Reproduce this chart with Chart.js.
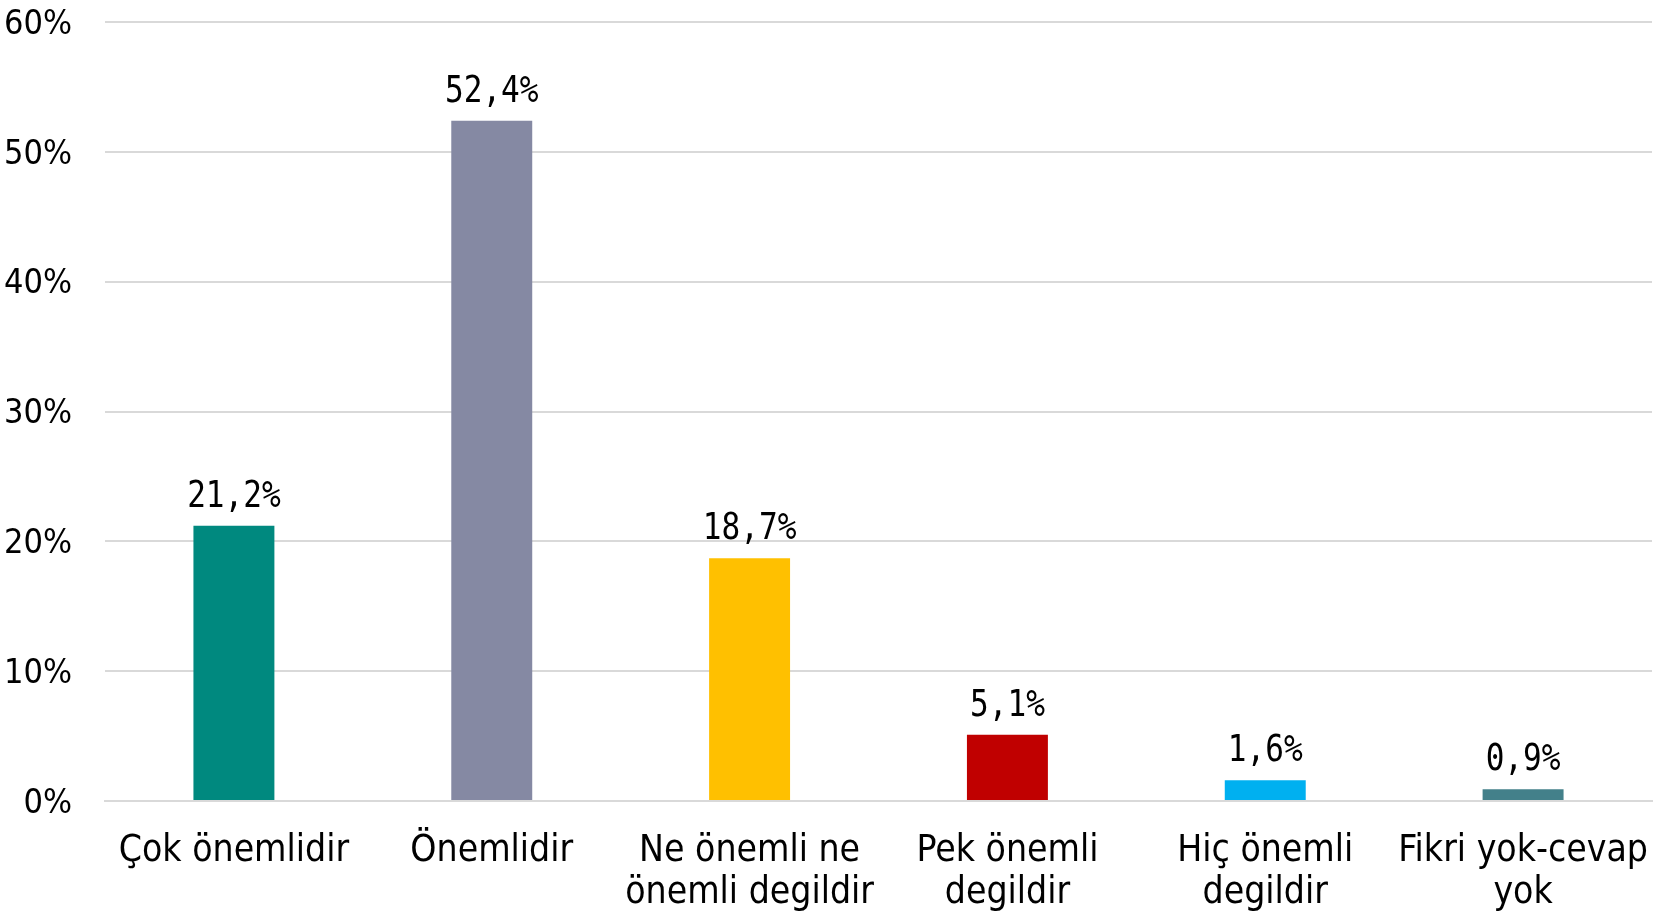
<!DOCTYPE html>
<html><head><meta charset="utf-8">
<script src="https://cdn.jsdelivr.net/npm/chart.js@4"></script>
<style>html,body{margin:0;padding:0;background:#fff;overflow:hidden}#wrap{width:1663px;height:911px}</style>
</head><body><div id="wrap"><canvas id="c"></canvas></div>
<script>
const categories = [["Çok önemlidir"], ["Önemlidir"], ["Ne önemli ne", "önemli degildir"], ["Pek önemli", "degildir"], ["Hiç önemli", "degildir"], ["Fikri yok-cevap", "yok"]];
const values = [21.2, 52.4, 18.7, 5.1, 1.6, 0.9];
const valueLabels = ["21,2%", "52,4%", "18,7%", "5,1%", "1,6%", "0,9%"];
const barColors = ["#00897F", "#8589A3", "#FFC000", "#C00000", "#00B0F0", "#43808A"];
const tickValues = [0, 10, 20, 30, 40, 50, 60];

const FONT = "'DejaVu Sans Condensed', 'DejaVu Sans', sans-serif";

const labelPlugin = {
  id: 'valLabels',
  afterDatasetsDraw(chart) {
    const ctx = chart.ctx;
    const meta = chart.getDatasetMeta(0);
    const sx = 0.84;
    ctx.save();
    ctx.fillStyle = '#000';
    ctx.font = "37px 'DejaVu Sans Mono', monospace";
    ctx.textAlign = 'center';
    ctx.textBaseline = 'alphabetic';
    meta.data.forEach((el, i) => {
      ctx.save();
      ctx.translate(el.x, el.y - 19);
      ctx.scale(sx, 1);
      ctx.fillText(valueLabels[i], 0, 0);
      ctx.restore();
    });
    ctx.restore();
  }
};

new Chart(document.getElementById('c'), {
  type: 'bar',
  data: {
    labels: categories,
    datasets: [{ data: values, backgroundColor: barColors, barPercentage: 0.314, categoryPercentage: 1 }]
  },
  options: {
    responsive: true,
    maintainAspectRatio: false,
    animation: false,
    layout: { padding: { top: 22, right: 11, left: 0, bottom: 0 } },
    plugins: { legend: { display: false }, tooltip: { enabled: false } },
    scales: {
      x: {
        afterFit: (s) => { s.height = 110; s.paddingLeft = 0; s.paddingRight = 0; s.paddingTop = 0; s.paddingBottom = 0; },
        grid: { display: false, drawTicks: false },
        border: { color: '#D9D9D9', width: 2 },
        ticks: { color: '#000', font: { family: FONT, size: 37, lineHeight: 1.14 }, padding: 29, maxRotation: 0, autoSkip: false }
      },
      y: {
        min: 0, max: 60,
        afterBuildTicks: (s) => { s.ticks = tickValues.map(v => ({ value: v })); },
        afterFit: (s) => { s.width = 105; s.paddingTop = 0; s.paddingBottom = 0; },
        grid: { color: '#D9D9D9', lineWidth: 2, drawTicks: false },
        border: { display: false },
        ticks: { color: '#000', font: { family: FONT, size: 34 }, padding: 33, labelOffset: 3, callback: v => v + '%' }
      }
    }
  },
  plugins: [labelPlugin]
});
</script></body></html>
